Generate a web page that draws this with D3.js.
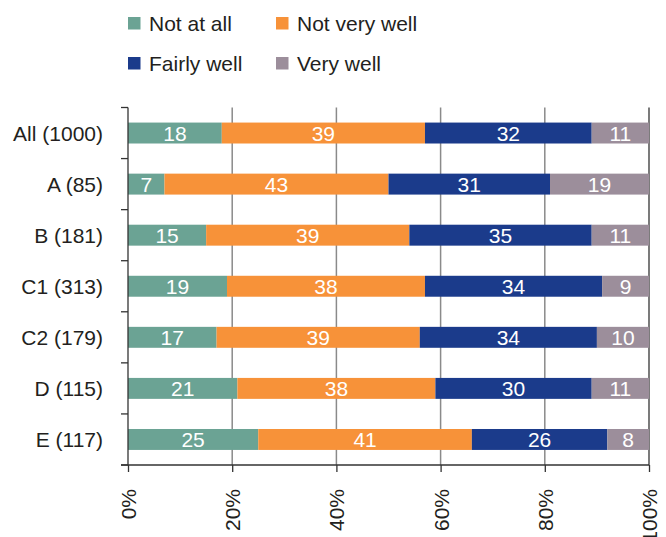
<!DOCTYPE html>
<html><head><meta charset="utf-8">
<script src="https://cdn.jsdelivr.net/npm/d3@7"></script>
<style>body{margin:0;background:#fff}svg{display:block}text{font-family:"Liberation Sans",Arial,sans-serif}</style>
</head><body><svg id="c" width="666" height="537"></svg>
<script>
const categories = ["All (1000)","A (85)","B (181)","C1 (313)","C2 (179)","D (115)","E (117)"];
const seriesNames = ["Not at all","Not very well","Fairly well","Very well"];
const notAtAll   = [18,7,15,19,17,21,25];
const notVeryWell= [39,43,39,38,39,38,41];
const fairlyWell = [32,31,35,34,34,30,26];
const veryWell   = [11,19,11,9,10,11,8];
const xTicks = [0,20,40,60,80,100];
const colors = ["#6ba394","#f79239","#1b3b8b","#9c8e9b"];

(function(){
const svg = d3.select("#c");
const pl=128, pr=649, pt=107.5, pb=465;
const fs = 21;
const x = d3.scaleLinear().domain([0,100]).range([pl,pr]);
const y = d3.scaleBand().domain(categories).range([pt,pb]).paddingInner(0.59).paddingOuter(0.295);

const rows = categories.map((c,i)=>({cat:c, vals:[notAtAll[i],notVeryWell[i],fairlyWell[i],veryWell[i]]}));
const stack = d3.stack().keys([0,1,2,3]).value((d,k)=>d.vals[k]);
const layers = stack(rows);

svg.append("g").selectAll("line").data(xTicks.filter(t=>t>0&&t<100)).join("line")
  .attr("x1",d=>x(d)).attr("x2",d=>x(d)).attr("y1",pt).attr("y2",pb)
  .attr("stroke","#8a8a8a").attr("stroke-width",1.5);
svg.append("line").attr("x1",x(100)).attr("x2",x(100)).attr("y1",pt).attr("y2",pb)
  .attr("stroke","#333").attr("stroke-width",1.3);

const g = svg.append("g");
layers.forEach((layer,k)=>{
  g.append("g").selectAll("rect").data(layer).join("rect")
    .attr("x",d=>x(d[0])).attr("width",d=>x(d[1])-x(d[0]))
    .attr("y",d=>y(d.data.cat)).attr("height",y.bandwidth())
    .attr("fill",colors[k]);
  g.append("g").selectAll("text").data(layer).join("text")
    .attr("x",d=>(x(d[0])+x(d[1]))/2).attr("y",d=>y(d.data.cat)+y.bandwidth()/2)
    .attr("dy","0.36em").attr("text-anchor","middle").attr("fill","#fff")
    .attr("font-size",fs).text(d=>d.data.vals[k]);
});

const boundaries = d3.range(categories.length+1).map(i=>pt+i*(pb-pt)/categories.length);
svg.append("line").attr("x1",pl).attr("x2",pl).attr("y1",pt).attr("y2",pb).attr("stroke","#333").attr("stroke-width",1.3);
svg.append("g").selectAll("line").data(boundaries).join("line")
  .attr("x1",pl-7).attr("x2",pl).attr("y1",d=>d).attr("y2",d=>d).attr("stroke","#333").attr("stroke-width",1.3);
svg.append("g").selectAll("text").data(categories).join("text")
  .attr("x",103).attr("y",d=>y(d)+y.bandwidth()/2).attr("dy","0.36em")
  .attr("text-anchor","end").attr("fill","#231f20").attr("font-size",fs).text(d=>d);

const xAxis = d3.axisBottom(x).tickValues(xTicks).tickFormat(d=>d+"%").tickSize(7).tickSizeOuter(0);
const ax = svg.append("g").attr("transform",`translate(0,${pb})`).call(xAxis);
ax.select(".domain").remove();
ax.append("line").attr("x1",pl-7).attr("x2",pr).attr("y1",0).attr("y2",0).attr("stroke","#333").attr("stroke-width",1.3);
ax.selectAll(".tick line").attr("stroke","#333").attr("stroke-width",1.3);
ax.selectAll(".tick text").attr("font-size",fs).attr("fill","#231f20")
  .attr("font-family","Liberation Sans, Arial, sans-serif")
  .attr("transform","rotate(-90)").attr("text-anchor","end")
  .attr("x",-24).attr("y",0).attr("dy","0.36em");

const legPos = [[128,17],[276,17],[128,57],[276,57]];
const leg = svg.append("g");
seriesNames.forEach((s,i)=>{
  leg.append("rect").attr("x",legPos[i][0]).attr("y",legPos[i][1]).attr("width",12.5).attr("height",12.5).attr("fill",colors[i]);
  leg.append("text").attr("x",legPos[i][0]+21).attr("y",legPos[i][1]+6.5).attr("dy","0.36em")
    .attr("font-size",fs).attr("fill","#231f20").text(s);
});
})();
</script></body></html>
